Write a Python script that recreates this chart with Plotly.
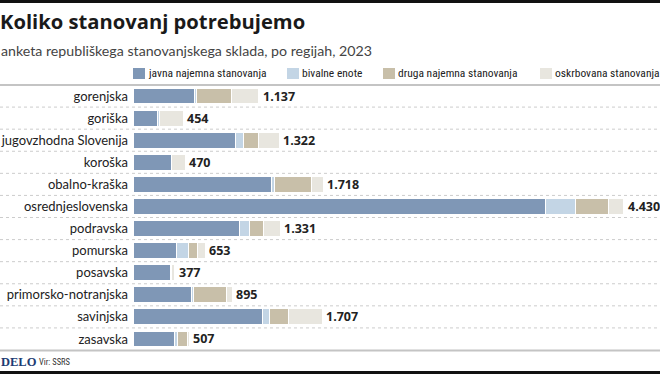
import plotly.graph_objects as go

regions = ["gorenjska", "goriška", "jugovzhodna Slovenija", "koroška", "obalno-kraška",
           "osrednjeslovenska", "podravska", "pomurska", "posavska", "primorsko-notranjska",
           "savinjska", "zasavska"]
javna = [555, 224, 925, 348, 1250, 3727, 962, 390, 340, 529, 1170, 378]
bivalne = [22, 15, 69, 2, 27, 270, 91, 112, 10, 15, 60, 27]
druga = [312, 0, 136, 0, 335, 298, 127, 82, 0, 300, 170, 84]
oskrbovana = [248, 215, 192, 120, 106, 135, 151, 69, 27, 51, 307, 18]
series_names = ["javna najemna stanovanja", "bivalne enote", "druga najemna stanovanja", "oskrbovana stanovanja"]
series_values = [javna, bivalne, druga, oskrbovana]
colors = ["#7f97b6", "#c3d5e5", "#c8bfa9", "#e8e6df"]
totals = [sum(v) for v in zip(*series_values)]

W, H = 660, 374
L, R, T, B = 133, 0, 85, 24
XMAX = 4756

def px(x):
    return (x - L) / (W - L - R)

def py(y):
    return (H - B - y) / (H - T - B)

fig = go.Figure()
for name, vals, col in zip(series_names, series_values, colors):
    fig.add_trace(go.Bar(
        y=regions, x=vals, name=name, orientation="h",
        marker=dict(color=col, line=dict(color="white", width=1)),
        width=0.72, showlegend=False, hoverinfo="x+y+name"))

annotations = []
for reg, tot in zip(regions, totals):
    annotations.append(dict(
        x=tot, y=reg, xref="x", yref="y", xanchor="left", yanchor="middle",
        text=f"{tot:,}".replace(",", "."), showarrow=False, xshift=2,
        font=dict(family="Open Sans", size=12.5, color="#222222", weight="bold")))

# title, subtitle
annotations.append(dict(x=px(-2), y=py(21), xref="paper", yref="paper", xanchor="left", yanchor="middle",
                        text="<b>Koliko stanovanj potrebujemo</b>", showarrow=False,
                        font=dict(family="Open Sans", size=20.2, color="#1a1a1a")))
annotations.append(dict(x=px(-1), y=py(50), xref="paper", yref="paper", xanchor="left", yanchor="middle",
                        text="anketa republiškega stanovanjskega sklada, po regijah, 2023", showarrow=False,
                        font=dict(family="Lato", size=14.2, color="#444444")))

shapes = []
# manual legend
leg_sq = [133, 287, 383, 540]
for name, col, x0 in zip(series_names, colors, leg_sq):
    shapes.append(dict(type="rect", xref="paper", yref="paper", x0=px(x0), x1=px(x0 + 12),
                       y0=py(79), y1=py(68), fillcolor=col, line=dict(width=0)))
    annotations.append(dict(x=px(x0 + 13), y=py(73.5), xref="paper", yref="paper", xanchor="left", yanchor="middle",
                            text=name, showarrow=False,
                            font=dict(family="Roboto Condensed", size=11.5, color="#222222")))

# top black rule, bottom black rule
for yy in (1.5, 372.5):
    shapes.append(dict(type="line", xref="paper", yref="paper", x0=px(0), x1=px(W), y0=py(yy), y1=py(yy),
                       line=dict(color="#111111", width=3)))
# grey rules above and below rows
for yy in (85, 350.5):
    shapes.append(dict(type="line", xref="paper", yref="paper", x0=px(0), x1=px(W), y0=py(yy), y1=py(yy),
                       line=dict(color="#c4c4c4", width=2)))
# dotted separators between rows
for i in range(len(regions) - 1):
    shapes.append(dict(type="line", xref="paper", yref="y", x0=px(0), x1=px(W), y0=i + 0.5, y1=i + 0.5,
                       line=dict(color="#cccccc", width=1, dash="dot"), layer="below"))

# footer
annotations.append(dict(x=px(-1), y=py(361.5), xref="paper", yref="paper", xanchor="left", yanchor="middle",
                        text="<b>DELO</b>", showarrow=False,
                        font=dict(family="Liberation Serif", size=12.5, color="#1d3c73")))
annotations.append(dict(x=px(37), y=py(361.5), xref="paper", yref="paper", xanchor="left", yanchor="middle",
                        text="Vir: SSRS", showarrow=False,
                        font=dict(family="Roboto Condensed", size=8.5, color="#333333")))

fig.update_layout(
    width=W, height=H, margin=dict(l=L, r=R, t=T, b=B, autoexpand=False),
    barmode="stack", paper_bgcolor="white", plot_bgcolor="white",
    xaxis=dict(range=[0, XMAX], visible=False, fixedrange=True, automargin=False),
    yaxis=dict(categoryorder="array", categoryarray=regions,
               range=[len(regions) - 0.5, -0.5], showgrid=False, zeroline=False, showline=False,
               ticks="", ticklabelstandoff=4, automargin=False, fixedrange=True,
               tickfont=dict(family="Lato", size=13, color="#222222")),
    annotations=annotations, shapes=shapes, bargap=0.3,
)
fig.write_html("out.html", config={"displayModeBar": False},
               post_script="document.body.style.margin='0';document.body.style.overflow='hidden';")
